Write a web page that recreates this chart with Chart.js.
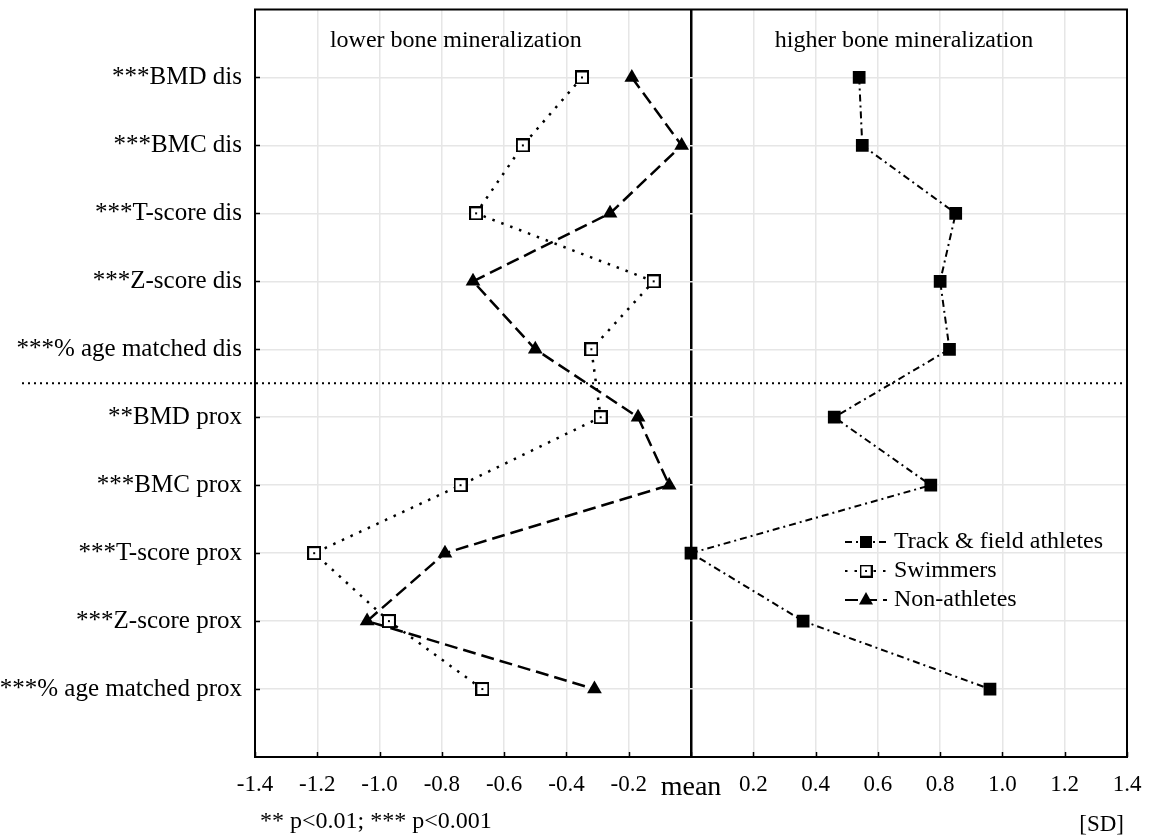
<!DOCTYPE html>
<html>
<head>
<meta charset="utf-8">
<script src="https://cdn.jsdelivr.net/npm/chart.js@4"></script>
<style>
  html, body { margin: 0; padding: 0; background: #fff; }
  #wrap { width: 1150px; height: 839px; }
</style>
</head>
<body>
<div id="wrap"><canvas id="chart_bone"></canvas></div>
<script>
// row labels, top to bottom
var rowLabels = ['***BMD dis', '***BMC dis', '***T-score dis', '***Z-score dis', '***% age matched dis',
    '**BMD prox', '***BMC prox', '***T-score prox', '***Z-score prox', '***% age matched prox'];
var seriesNames = ['Track & field athletes', 'Swimmers', 'Non-athletes'];
// values in SD, same order as rowLabels
var trackField = [0.54, 0.55, 0.85, 0.80, 0.83, 0.46, 0.77, 0.00, 0.36, 0.96];
var swimmers = [-0.35, -0.54, -0.69, -0.12, -0.32, -0.29, -0.74, -1.21, -0.97, -0.67];
var nonAthletes = [-0.19, -0.03, -0.26, -0.70, -0.50, -0.17, -0.07, -0.79, -1.04, -0.31];
var xTicks = [-1.4, -1.2, -1.0, -0.8, -0.6, -0.4, -0.2, 0, 0.2, 0.4, 0.6, 0.8, 1.0, 1.2, 1.4];

var FONT = "'Liberation Serif', 'Times New Roman', serif";

function toPoints(arr) {
    return arr.map(function (v, i) { return { x: v, y: i + 1 }; });
}

// open square with a little dot in the middle
var openSquare = document.createElement('canvas');
openSquare.width = 14;
openSquare.height = 14;
(function () {
    var c = openSquare.getContext('2d');
    c.fillStyle = '#fff';
    c.fillRect(1, 1, 12, 12);
    c.strokeStyle = '#000';
    c.lineWidth = 2;
    c.strokeRect(1, 1, 12, 12);
    c.fillStyle = '#000';
    c.fillRect(6, 6, 2, 2);
})();

var extras = {
    id: 'extras',
    afterDraw: function (chart) {
        var ctx = chart.ctx;
        var a = chart.chartArea;
        var xs = chart.scales.x, ys = chart.scales.y;
        ctx.save();

        // inner tick marks
        ctx.strokeStyle = '#000';
        ctx.lineWidth = 1.5;
        ctx.beginPath();
        xTicks.forEach(function (t) {
            var px = Math.round(xs.getPixelForValue(t)) + 0.5;
            ctx.moveTo(px, a.bottom);
            ctx.lineTo(px, a.bottom - 5);
        });
        for (var r = 1; r <= rowLabels.length; r++) {
            var py = Math.round(ys.getPixelForValue(r)) + 0.5;
            ctx.moveTo(a.left, py);
            ctx.lineTo(a.left + 5, py);
        }
        ctx.stroke();

        // frame
        ctx.lineWidth = 2;
        ctx.strokeRect(a.left, a.top, a.right - a.left, a.bottom - a.top);

        // dotted separator between dis and prox
        var sy = ys.getPixelForValue(5.5);
        ctx.setLineDash([2, 4]);
        ctx.beginPath();
        ctx.moveTo(22, sy);
        ctx.lineTo(a.right, sy);
        ctx.stroke();
        ctx.setLineDash([]);

        // region titles
        ctx.fillStyle = '#000';
        ctx.font = '24px ' + FONT;
        ctx.textAlign = 'center';
        ctx.textBaseline = 'middle';
        ctx.fillText('lower bone mineralization', xs.getPixelForValue(-0.755), a.top + 31);
        ctx.fillText('higher bone mineralization', xs.getPixelForValue(0.684), a.top + 31);

        // footnotes
        ctx.font = '24px ' + FONT;
        ctx.textAlign = 'left';
        ctx.fillText('** p<0.01; *** p<0.001', 260, 822);
        ctx.textAlign = 'right';
        ctx.font = '23px ' + FONT;
        ctx.fillText('[SD]', a.right - 3, 825);

        // legend
        var lx = a.right - 282, ly = 542;
        chart.data.datasets.forEach(function (ds) {
            ctx.strokeStyle = '#000';
            ctx.lineWidth = 2;
            ctx.setLineDash(ds.borderDash);
            ctx.beginPath();
            ctx.moveTo(lx, ly);
            ctx.lineTo(lx + 42, ly);
            ctx.stroke();
            ctx.setLineDash([]);
            var mx = lx + 21;
            if (ds.pointStyle === openSquare) {
                ctx.drawImage(openSquare, mx - 6.5, ly - 6.5, 13, 13);
            } else if (ds.pointStyle === 'rect') {
                ctx.fillStyle = '#000';
                ctx.fillRect(mx - 6, ly - 6, 12, 12);
            } else {
                ctx.fillStyle = '#000';
                ctx.beginPath();
                ctx.moveTo(mx, ly - 8);
                ctx.lineTo(mx + 7, ly + 4.5);
                ctx.lineTo(mx - 7, ly + 4.5);
                ctx.closePath();
                ctx.fill();
            }
            ctx.fillStyle = '#000';
            ctx.font = '24px ' + FONT;
            ctx.textAlign = 'left';
            ctx.fillText(ds.label, lx + 49, ly);
            ly += 29;
        });
        ctx.restore();
    }
};

var chartCanvas = document.getElementById('chart_bone').getContext('2d');
var boneChart = new Chart(chartCanvas, {
    type: 'scatter',
    data: {
        datasets: [{
            label: seriesNames[0],
            data: toPoints(trackField),
            showLine: true,
            borderColor: '#000',
            backgroundColor: '#000',
            borderWidth: 2,
            borderDash: [7, 4, 2, 4],
            pointStyle: 'rect',
            pointRadius: 9,
            pointBorderWidth: 0
        }, {
            label: seriesNames[1],
            data: toPoints(swimmers),
            showLine: true,
            borderColor: '#000',
            backgroundColor: '#fff',
            borderWidth: 2.5,
            borderDash: [2.5, 7],
            pointStyle: openSquare,
            pointRadius: 7
        }, {
            label: seriesNames[2],
            data: toPoints(nonAthletes),
            showLine: true,
            borderColor: '#000',
            backgroundColor: '#000',
            borderWidth: 2.5,
            borderDash: [13, 6],
            pointStyle: 'triangle',
            pointRadius: 8.5,
            pointBorderWidth: 0
        }]
    },
    options: {
        responsive: true,
        maintainAspectRatio: false,
        animation: false,
        layout: { padding: { top: 8, right: 23, left: 0, bottom: 0 } },
        plugins: {
            legend: { display: false },
            tooltip: { enabled: false }
        },
        scales: {
            x: {
                type: 'linear',
                min: -1.4,
                max: 1.4,
                afterFit: function (s) {
                    s.height = 82;
                    s.paddingLeft = 0;
                    s.paddingRight = 0;
                },
                afterBuildTicks: function (s) {
                    s.ticks = xTicks.map(function (v) { return { value: v }; });
                },
                ticks: {
                    padding: 14,
                    color: '#000',
                    maxRotation: 0,
                    autoSkip: false,
                    font: function (c) {
                        var v = c.tick ? c.tick.value : 1;
                        return { family: FONT, size: Math.abs(v) < 1e-9 ? 28 : 23 };
                    },
                    callback: function (v) {
                        return Math.abs(v) < 1e-9 ? 'mean' : Number(v).toFixed(1);
                    }
                },
                grid: {
                    drawTicks: false,
                    color: function (c) {
                        return c.tick && Math.abs(c.tick.value) < 1e-9 ? '#000' : '#e6e6e6';
                    },
                    lineWidth: function (c) {
                        return c.tick && Math.abs(c.tick.value) < 1e-9 ? 2.5 : 1.5;
                    }
                },
                border: { display: false }
            },
            y: {
                type: 'linear',
                min: 0,
                max: 11,
                reverse: true,
                afterFit: function (s) {
                    s.width = 255;
                    s.paddingTop = 0;
                    s.paddingBottom = 0;
                },
                afterBuildTicks: function (s) {
                    s.ticks = rowLabels.map(function (l, i) { return { value: i + 1 }; });
                },
                ticks: {
                    autoSkip: false,
                    padding: 13,
                    color: '#000',
                    font: { family: FONT, size: 25 },
                    callback: function (v) { return rowLabels[v - 1] || ''; }
                },
                grid: {
                    drawTicks: false,
                    lineWidth: 1.5,
                    color: '#e6e6e6'
                },
                border: { display: false }
            }
        }
    },
    plugins: [extras]
});
</script>
</body>
</html>
